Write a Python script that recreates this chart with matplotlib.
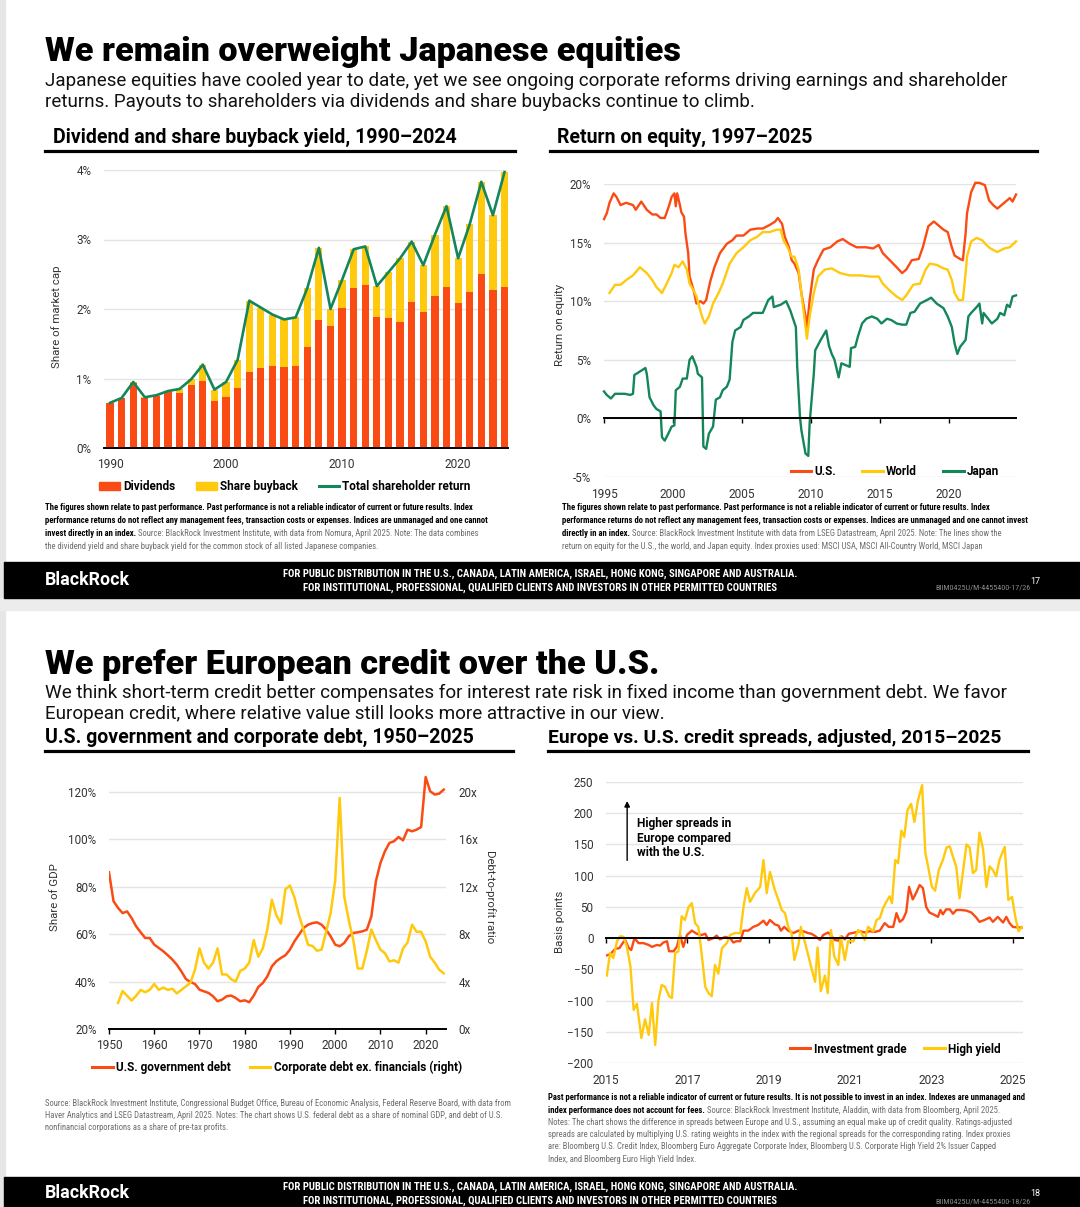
import numpy as np
import matplotlib
matplotlib.use('Agg')
import matplotlib.pyplot as plt
from matplotlib import font_manager
from matplotlib.patches import Rectangle, Patch
from matplotlib.lines import Line2D

W, H = 1080, 1207
RED = '#fb4b14'
YELLOW = '#ffc90e'
GREEN = '#14865a'
GRID = '#e4e4e4'
TICK = '#333333'
NOTE = '#6e6e6e'

# a condensed face for the small print, if one is installed
fonts = font_manager.fontManager.ttflist
installed = {f.name for f in fonts}
NARROW, STRETCH = 'Roboto', 'normal'
for name in ['Liberation Sans Narrow', 'Roboto Condensed', 'Open Sans Condensed']:
    if name in installed:
        NARROW = name
        break
else:
    if any(f.name == 'DejaVu Sans' and f.stretch == 'condensed' for f in fonts):
        NARROW, STRETCH = 'DejaVu Sans', 'condensed'
plt.rcParams['font.family'] = ['Roboto', 'DejaVu Sans']

# ---- Dividend and share buyback yield (% of market cap), 1990-2024
jp_years = np.arange(1990, 2025)
dividends = [0.65, 0.72, 0.93, 0.72, 0.75, 0.80, 0.79, 0.90, 0.96, 0.68, 0.73, 0.86,
             1.09, 1.15, 1.18, 1.17, 1.18, 1.45, 1.84, 1.76, 2.02, 2.30, 2.35, 1.89,
             1.87, 1.82, 2.10, 1.96, 2.19, 2.31, 2.08, 2.25, 2.50, 2.28, 2.31]
buyback = [0.00, 0.00, 0.02, 0.01, 0.01, 0.02, 0.06, 0.09, 0.24, 0.16, 0.22, 0.41,
           1.03, 0.87, 0.74, 0.68, 0.70, 0.85, 1.04, 0.24, 0.40, 0.56, 0.55, 0.44,
           0.66, 0.91, 0.87, 0.67, 0.88, 1.17, 0.65, 0.97, 1.33, 1.07, 1.66]

# ---- Return on equity (%), (year, value)
roe_us = [(1995.0, 17.0), (1995.2, 17.5), (1995.4, 18.4), (1995.7, 19.2), (1995.9, 18.9),
          (1996.2, 18.2), (1996.6, 18.4), (1997.1, 18.2), (1997.3, 17.8), (1997.7, 18.5),
          (1998.1, 17.8), (1998.5, 17.4), (1998.8, 17.4), (1999.1, 17.1), (1999.4, 17.1),
          (1999.7, 18.1), (1999.9, 18.9), (2000.1, 19.2), (2000.2, 18.1), (2000.3, 19.2),
          (2000.5, 18.2), (2000.6, 17.6), (2000.8, 17.2), (2000.9, 15.8), (2001.1, 14.1),
          (2001.2, 12.1), (2001.5, 10.9), (2001.7, 9.8), (2002.0, 10.0), (2002.2, 9.8),
          (2002.4, 10.1), (2002.7, 11.7), (2003.0, 12.9), (2003.4, 14.1), (2003.9, 14.9),
          (2004.3, 15.2), (2004.6, 15.6), (2005.1, 15.6), (2005.6, 16.1), (2006.1, 16.2),
          (2006.5, 16.2), (2007.0, 16.5), (2007.4, 16.8), (2007.6, 17.1), (2007.9, 16.6),
          (2008.1, 15.5), (2008.4, 14.6), (2008.6, 13.5), (2008.8, 13.2), (2009.1, 12.4),
          (2009.3, 10.7), (2009.6, 8.7), (2009.7, 7.7), (2009.9, 10.1), (2010.2, 12.7),
          (2010.5, 13.5), (2010.9, 14.4), (2011.4, 14.6), (2011.9, 15.1), (2012.3, 15.3),
          (2012.8, 14.9), (2013.3, 14.6), (2014.0, 14.6), (2014.5, 14.5), (2014.9, 14.8),
          (2015.2, 14.1), (2015.7, 13.5), (2016.2, 12.9), (2016.6, 12.4), (2016.9, 12.7),
          (2017.3, 13.5), (2017.8, 13.6), (2018.1, 14.6), (2018.5, 16.4), (2018.9, 16.8),
          (2019.2, 16.5), (2019.6, 16.1), (2019.9, 15.9), (2020.2, 14.6), (2020.4, 13.9),
          (2020.8, 13.6), (2021.0, 13.5), (2021.2, 15.8), (2021.3, 17.5), (2021.6, 19.3),
          (2021.9, 20.1), (2022.2, 20.1), (2022.6, 19.9), (2022.9, 18.6), (2023.2, 18.2),
          (2023.5, 17.9), (2023.8, 18.2), (2024.2, 18.6), (2024.4, 18.8), (2024.6, 18.5),
          (2024.85, 19.1)]
roe_world = [(1995.4, 10.7), (1995.8, 11.4), (1996.2, 11.4), (1996.6, 11.8), (1997.1, 12.2),
             (1997.6, 12.9), (1998.1, 12.4), (1998.5, 11.8), (1998.8, 11.2), (1999.2, 10.7),
             (1999.5, 11.4), (1999.9, 12.4), (2000.1, 13.1), (2000.4, 12.9), (2000.7, 13.4),
             (2001.0, 12.7), (2001.2, 11.5), (2001.5, 10.9), (2001.7, 10.4), (2002.1, 8.7),
             (2002.3, 8.1), (2002.6, 8.7), (2002.9, 9.8), (2003.3, 10.7), (2003.6, 11.5),
             (2004.1, 13.2), (2004.6, 14.1), (2005.1, 14.6), (2005.6, 15.2), (2006.1, 15.5),
             (2006.5, 15.9), (2007.0, 15.9), (2007.5, 16.1), (2007.8, 16.1), (2008.0, 15.2),
             (2008.3, 14.6), (2008.6, 13.8), (2008.8, 13.8), (2009.1, 12.7), (2009.3, 10.7),
             (2009.6, 7.8), (2009.7, 6.8), (2009.9, 8.7), (2010.2, 10.7), (2010.5, 12.1),
             (2011.0, 12.7), (2011.5, 12.8), (2012.1, 12.4), (2012.8, 12.2), (2013.6, 12.2),
             (2014.3, 12.1), (2014.9, 12.1), (2015.2, 11.5), (2015.7, 10.9), (2016.2, 10.4),
             (2016.6, 10.1), (2016.9, 10.5), (2017.4, 11.4), (2017.9, 11.5), (2018.3, 12.7),
             (2018.6, 13.2), (2019.1, 13.1), (2019.6, 12.8), (2019.9, 12.7), (2020.2, 11.8),
             (2020.4, 10.7), (2020.7, 10.1), (2021.0, 10.1), (2021.2, 12.4), (2021.3, 13.8),
             (2021.6, 15.1), (2022.0, 15.4), (2022.4, 15.2), (2022.7, 14.8), (2023.0, 14.5),
             (2023.5, 14.2), (2024.0, 14.5), (2024.4, 14.6), (2024.85, 15.1)]
roe_japan = [(1995.0, 2.3), (1995.2, 2.0), (1995.5, 1.7), (1995.8, 2.1), (1996.2, 2.1),
             (1996.5, 2.1), (1996.9, 2.0), (1997.1, 2.1), (1997.2, 3.7), (1997.6, 4.0),
             (1998.0, 4.3), (1998.1, 3.8), (1998.3, 1.8), (1998.6, 1.1), (1998.8, 0.8),
             (1999.1, 0.6), (1999.2, -1.6), (1999.4, -1.9), (1999.7, -1.2), (1999.9, -0.7),
             (2000.1, -0.6), (2000.2, 2.4), (2000.5, 2.7), (2000.7, 3.4), (2001.0, 3.4),
             (2001.2, 5.0), (2001.4, 5.3), (2001.7, 4.4), (2001.8, 3.8), (2002.1, 3.5),
             (2002.2, -2.4), (2002.4, -2.6), (2002.6, -1.3), (2002.9, -0.7), (2003.1, 1.6),
             (2003.4, 1.8), (2003.6, 2.4), (2003.9, 2.7), (2004.1, 3.3), (2004.3, 6.5),
             (2004.5, 7.5), (2004.9, 7.8), (2005.1, 8.4), (2005.5, 8.7), (2005.8, 9.0),
             (2006.5, 9.0), (2006.9, 10.1), (2007.2, 10.4), (2007.3, 9.5), (2007.8, 9.7),
             (2008.2, 10.0), (2008.5, 9.2), (2008.7, 8.5), (2008.9, 7.8), (2009.0, 4.4),
             (2009.2, 0.1), (2009.3, -1.0), (2009.6, -3.0), (2009.8, -3.2), (2009.9, -0.4),
             (2010.2, 3.8), (2010.3, 5.8), (2010.7, 6.7), (2010.9, 7.1), (2011.1, 7.5),
             (2011.3, 6.2), (2011.5, 5.5), (2011.7, 5.0), (2012.0, 3.5), (2012.2, 4.7),
             (2012.6, 4.5), (2012.8, 4.4), (2012.9, 6.0), (2013.2, 6.1), (2013.4, 7.0),
             (2013.7, 8.1), (2014.0, 8.5), (2014.4, 8.7), (2014.8, 8.5), (2015.1, 8.1),
             (2015.5, 8.5), (2015.8, 8.4), (2016.2, 8.1), (2016.6, 8.0), (2016.9, 8.0),
             (2017.2, 9.0), (2017.5, 9.1), (2017.9, 9.8), (2018.4, 10.1), (2018.7, 10.3),
             (2019.1, 9.8), (2019.6, 9.4), (2019.9, 8.7), (2020.2, 7.8), (2020.4, 6.4),
             (2020.6, 5.5), (2020.8, 6.1), (2021.2, 6.7), (2021.4, 8.7), (2021.6, 9.0),
             (2022.0, 9.5), (2022.2, 9.8), (2022.4, 8.1), (2022.5, 9.0), (2022.9, 8.4),
             (2023.1, 8.1), (2023.5, 8.5), (2023.7, 9.0), (2024.0, 8.8), (2024.2, 9.7),
             (2024.4, 9.5), (2024.6, 10.4), (2024.85, 10.5)]

# ---- U.S. government debt (% of GDP), 1950-2024
debt_years = np.arange(1950, 2025)
gov_debt = [86.1, 73.9, 71.1, 68.9, 69.6, 66.8, 63.3, 60.8, 58.4, 58.4,
            55.6, 54.2, 52.8, 51.1, 49.3, 47.1, 44.3, 41.1, 39.8, 39.0,
            36.6, 35.9, 35.2, 33.8, 31.7, 32.4, 33.8, 34.1, 33.1, 31.7,
            32.1, 31.3, 34.1, 37.7, 39.4, 42.2, 46.4, 48.6, 50.0, 51.1,
            53.5, 57.0, 59.8, 62.6, 64.0, 64.7, 65.0, 64.0, 61.9, 59.1,
            55.6, 54.9, 56.3, 59.1, 60.5, 60.8, 61.2, 61.9, 67.5, 82.3,
            90.0, 95.0, 98.5, 99.2, 101.0, 99.6, 104.1, 103.4, 104.1, 105.2,
            126.3, 120.3, 118.9, 119.3, 121.0]
# corporate debt ex. financials, debt-to-profit ratio (x), 1952-2024
corp_years = np.arange(1952, 2025)
corp_debt = [2.2, 3.2, 2.8, 2.4, 2.8, 3.3, 3.1, 3.3,
             3.8, 3.3, 3.5, 3.3, 3.4, 3.0, 3.3, 3.6, 3.9, 5.0,
             6.8, 5.6, 5.1, 5.6, 6.8, 4.6, 4.6, 4.2, 4.0, 4.9,
             5.1, 5.6, 7.5, 6.1, 6.8, 8.4, 10.9, 9.6, 8.9, 11.8,
             12.1, 11.1, 9.6, 8.4, 7.1, 7.0, 6.6, 6.7, 8.2, 9.8,
             12.5, 19.5, 11.2, 9.2, 7.5, 5.1, 5.1, 6.6, 8.4, 7.5,
             6.7, 6.4, 5.7, 5.8, 5.6, 6.8, 7.3, 8.8, 8.2, 8.2,
             7.4, 6.1, 5.6, 5.0, 4.7]

# ---- Europe minus U.S. credit spreads (bp), (year, value)
spread_ig = [(2015.0, -28), (2015.1, -26), (2015.23, -17), (2015.33, -16), (2015.41, -8),
             (2015.47, -3), (2015.56, -16), (2015.62, -19), (2015.7, 0), (2015.8, -8),
             (2015.92, -8), (2016.05, -11), (2016.13, -14), (2016.25, -11), (2016.33, -12),
             (2016.41, -7), (2016.5, -5), (2016.55, -21), (2016.66, -21), (2016.74, -14),
             (2016.82, 5), (2016.9, -14), (2016.99, 5), (2017.11, 12), (2017.23, 7),
             (2017.35, 5), (2017.44, 7), (2017.52, -3), (2017.64, 0), (2017.72, 4),
             (2017.8, -2), (2017.93, 2), (2018.05, 0), (2018.13, -7), (2018.21, -5),
             (2018.3, -5), (2018.38, 12), (2018.5, 12), (2018.62, 18), (2018.74, 21),
             (2018.87, 28), (2018.95, 21), (2019.03, 29), (2019.15, 22), (2019.24, 20),
             (2019.3, 12), (2019.38, 18), (2019.48, 12), (2019.6, 8), (2019.73, 12),
             (2019.85, 11), (2019.97, 8), (2020.05, 7), (2020.15, 3), (2020.26, -3),
             (2020.34, 5), (2020.46, 9), (2020.54, 4), (2020.62, -3), (2020.71, -4),
             (2020.79, 3), (2020.87, -2), (2020.97, 7), (2021.12, 9), (2021.24, 11),
             (2021.36, 9), (2021.48, 11), (2021.61, 10), (2021.73, 12), (2021.85, 24),
             (2021.95, 18), (2022.06, 18), (2022.14, 40), (2022.22, 26), (2022.3, 30),
             (2022.38, 42), (2022.45, 82), (2022.54, 62), (2022.62, 72), (2022.71, 85),
             (2022.79, 80), (2022.87, 50), (2022.95, 41), (2023.08, 37), (2023.16, 34),
             (2023.22, 45), (2023.28, 38), (2023.36, 46), (2023.45, 46), (2023.53, 39),
             (2023.61, 45), (2023.73, 45), (2023.86, 44), (2023.98, 41), (2024.1, 33),
             (2024.18, 26), (2024.3, 29), (2024.43, 33), (2024.51, 26), (2024.63, 34),
             (2024.76, 25), (2024.84, 34), (2024.92, 24), (2025.0, 18), (2025.12, 17),
             (2025.22, 17)]
spread_hy = [(2015.02, -60), (2015.1, -24), (2015.18, -32), (2015.27, -5), (2015.35, 3),
             (2015.43, 2), (2015.51, -13), (2015.6, -45), (2015.68, -115), (2015.76, -105),
             (2015.87, -160), (2015.96, -130), (2016.05, -155), (2016.13, -104), (2016.21, -171),
             (2016.29, -99), (2016.37, -75), (2016.45, -78), (2016.55, -93), (2016.62, -96),
             (2016.7, -24), (2016.78, -21), (2016.86, 35), (2016.94, 29), (2017.03, 50),
             (2017.11, 56), (2017.19, 24), (2017.27, 18), (2017.35, -24), (2017.44, -78),
             (2017.52, -88), (2017.6, -93), (2017.68, -43), (2017.76, -57), (2017.85, -16),
             (2017.97, -8), (2018.05, 5), (2018.17, 8), (2018.3, 8), (2018.38, 50),
             (2018.46, 80), (2018.54, 58), (2018.66, 72), (2018.79, 82), (2018.87, 125),
             (2018.95, 72), (2019.03, 106), (2019.15, 77), (2019.24, 61), (2019.32, 45),
             (2019.4, 40), (2019.48, 18), (2019.56, 8), (2019.63, -35), (2019.73, -11),
             (2019.79, 18), (2019.85, 3), (2019.97, -27), (2020.05, -48), (2020.14, -70),
             (2020.2, -15), (2020.28, -85), (2020.38, -60), (2020.45, -88), (2020.53, 13),
             (2020.61, -29), (2020.71, -43), (2020.77, 3), (2020.87, -35), (2020.95, -5),
             (2021.08, -5), (2021.2, 13), (2021.28, 8), (2021.36, -3), (2021.44, 18),
             (2021.57, 11), (2021.65, 29), (2021.73, 32), (2021.81, 48), (2021.89, 58),
             (2021.97, 67), (2022.03, 56), (2022.11, 125), (2022.18, 120), (2022.26, 172),
             (2022.33, 162), (2022.41, 205), (2022.5, 215), (2022.58, 186), (2022.67, 221),
             (2022.77, 245), (2022.85, 136), (2022.92, 114), (2023.01, 82), (2023.09, 76),
             (2023.18, 109), (2023.28, 125), (2023.37, 145), (2023.45, 147), (2023.53, 130),
             (2023.61, 114), (2023.69, 64), (2023.77, 104), (2023.86, 150), (2023.94, 145),
             (2024.02, 104), (2024.1, 109), (2024.18, 169), (2024.27, 142), (2024.35, 82),
             (2024.43, 115), (2024.51, 109), (2024.59, 99), (2024.67, 125), (2024.8, 146),
             (2024.89, 61), (2024.98, 66), (2025.06, 34), (2025.14, 11), (2025.22, 18)]

# ---- texts
title_top = 'We remain overweight Japanese equities'
sub_top = ['Japanese equities have cooled year to date, yet we see ongoing corporate reforms driving earnings and shareholder',
           'returns. Payouts to shareholders via dividends and share buybacks continue to climb.']
title_bot = 'We prefer European credit over the U.S.'
sub_bot = ['We think short-term credit better compensates for interest rate risk in fixed income than government debt. We favor',
           'European credit, where relative value still looks more attractive in our view.']
footer = ['FOR PUBLIC DISTRIBUTION IN THE U.S., CANADA, LATIN AMERICA, ISRAEL, HONG KONG, SINGAPORE AND AUSTRALIA.',
          'FOR INSTITUTIONAL, PROFESSIONAL, QUALIFIED CLIENTS AND INVESTORS IN OTHER PERMITTED COUNTRIES']

fig = plt.figure(figsize=(W / 100, H / 100), dpi=100)
fig.patch.set_facecolor('white')
renderer = fig.canvas.get_renderer()


def box(l, t, r, b):
    return [l / W, 1 - b / H, (r - l) / W, (b - t) / H]


def put(x, y, s, size, **kw):
    return fig.text(x / W, 1 - y / H, s, fontsize=size, **kw)


def fit(x, y, s, width, keep=True, **kw):
    # font size that makes s exactly `width` pixels wide
    t = put(x, y, s, 10, **kw)
    size = 10 * width / t.get_window_extent(renderer).width
    if keep:
        t.set_fontsize(size)
    else:
        t.remove()
    return size


def mixed(x, y, parts, size):
    for s, weight, color in parts:
        t = put(x, y, s, size, fontweight=weight, color=color, family=NARROW,
                fontstretch=STRETCH, va='center')
        x += t.get_window_extent(renderer).width


def rule(x0, x1, y):
    fig.add_artist(Line2D([x0 / W, x1 / W], [1 - y / H] * 2, color='black', lw=2.3,
                          transform=fig.transFigure))


def rect(l, t, r, b, color):
    fig.add_artist(Rectangle((l / W, 1 - b / H), (r - l) / W, (b - t) / H, color=color,
                             transform=fig.transFigure, zorder=0))


def style(ax):
    for s in ax.spines.values():
        s.set_visible(False)
    ax.tick_params(axis='y', length=0, labelsize=8.4, labelcolor=TICK, pad=9)
    ax.tick_params(axis='x', labelsize=8.6, labelcolor=TICK)
    ax.grid(axis='y', color=GRID, lw=1.0)
    ax.set_axisbelow(True)


def zero_axis(ax, ticks, labels, zero, pad):
    ax.spines['bottom'].set_visible(True)
    ax.spines['bottom'].set_position(('data', zero))
    ax.spines['bottom'].set_linewidth(1.4)
    ax.set_xticks(ticks)
    ax.tick_params(axis='x', length=3.5, width=1.0, labelbottom=False)
    sec = ax.secondary_xaxis('bottom')
    sec.set_xticks(ticks, labels)
    sec.tick_params(length=0, pad=pad, labelsize=8.6, labelcolor=TICK)
    sec.spines['bottom'].set_visible(False)


def legend(handles, labels, cx, cy, colsp):
    fig.legend(handles, labels, loc='center', bbox_to_anchor=(cx / W, 1 - cy / H), ncol=len(labels),
               frameon=False, prop={'weight': 'bold', 'size': 8.5}, handlelength=1.75,
               handletextpad=0.28, columnspacing=colsp, borderpad=0, borderaxespad=0)


# ---- page frame
rect(0, 0, 5, H, '#e6e6e6')
rect(0, 598, W, 610, '#ececec')
rect(4, 562, W, 598, 'black')
rect(4, 1177, W, H, 'black')

# ---- headings
fit(45, 61, title_top, 636, fontweight='black', va='baseline')
fs = fit(45, 86, sub_top[0], 965, va='baseline', color='#111111')
put(45, 107, sub_top[1], fs, va='baseline', color='#111111')
fit(53, 143, 'Dividend and share buyback yield, 1990\u20132024', 406, fontweight='bold', va='baseline')
fit(557, 143, 'Return on equity, 1997\u20132025', 256, fontweight='bold', va='baseline')
rule(45, 515, 151)
rule(550, 1037, 151)

fit(45, 674, title_bot, 615, fontweight='black', va='baseline')
fs = fit(45, 698, sub_bot[0], 967, va='baseline', color='#111111')
put(45, 719, sub_bot[1], fs, va='baseline', color='#111111')
fit(45, 743, 'U.S. government and corporate debt, 1950\u20132025', 430, fontweight='bold', va='baseline')
fit(548, 743, 'Europe vs. U.S. credit spreads, adjusted, 2015\u20132025', 456, fontweight='bold', va='baseline')
rule(45, 513, 751)
rule(548, 1028, 751)

# ---- chart 1: dividends and buybacks
ax1 = fig.add_axes(box(104, 170, 508, 448))
style(ax1)
div = np.array(dividends)
bb = np.array(buyback)
ax1.bar(jp_years, div, width=0.62, color=RED, zorder=2)
ax1.bar(jp_years, bb, bottom=div, width=0.62, color=YELLOW, zorder=2)
ax1.plot(jp_years, div + bb, color=GREEN, lw=1.9, zorder=3, clip_on=False)
ax1.set_ylim(0, 4)
ax1.set_xlim(1989.48, 2024.3)
ax1.set_yticks([0, 1, 2, 3, 4], ['0%', '1%', '2%', '3%', '4%'])
ax1.set_xticks([1990, 2000, 2010, 2020])
ax1.spines['bottom'].set_visible(True)
ax1.spines['bottom'].set_linewidth(1.4)
ax1.tick_params(axis='x', length=0, pad=7)
put(57, 317, 'Share of market cap', 8.2, rotation=90, ha='center', va='center', color=TICK)
legend([Patch(color=RED), Patch(color=YELLOW), Line2D([], [], color=GREEN, lw=2.2)],
       ['Dividends', 'Share buyback', 'Total shareholder return'], 285, 487, 1.75)

# ---- chart 2: return on equity
ax2 = fig.add_axes(box(604, 184, 1016, 477))
style(ax2)
for series, color in [(roe_us, RED), (roe_world, YELLOW), (roe_japan, GREEN)]:
    xs, ys = np.array(series).T
    ax2.plot(xs, ys, color=color, lw=1.7, clip_on=False)
ax2.set_ylim(-5, 20)
ax2.set_xlim(1995, 2024.85)
ax2.set_yticks([-5, 0, 5, 10, 15, 20], ['-5%', '0%', '5%', '10%', '15%', '20%'])
zero_axis(ax2, [1995, 2000, 2005, 2010, 2015, 2020], ['1995', '2000', '2005', '2010', '2015', '2020'], 0, 8)
put(560, 325, 'Return on equity', 8.2, rotation=90, ha='center', va='center', color=TICK)
legend([Line2D([], [], color=c, lw=2.2) for c in (RED, YELLOW, GREEN)],
       ['U.S.', 'World', 'Japan'], 895, 472, 2.2)

# ---- chart 3: U.S. government and corporate debt
ax3 = fig.add_axes(box(109, 773, 446, 1029))
style(ax3)
ax3.plot(debt_years, gov_debt, color=RED, lw=1.8, zorder=3)
ax3.set_ylim(20, 128)
ax3.set_xlim(1950, 2024.5)
ax3.set_yticks([20, 40, 60, 80, 100, 120], ['20%', '40%', '60%', '80%', '100%', '120%'])
ax3.set_xticks(range(1950, 2021, 10))
ax3.spines['bottom'].set_visible(True)
ax3.spines['bottom'].set_linewidth(1.4)
ax3.tick_params(axis='x', length=3.5, width=1.0, pad=4)
ax3r = ax3.twinx()
for s in ax3r.spines.values():
    s.set_visible(False)
ax3r.plot(corp_years, corp_debt, color=YELLOW, lw=1.8, zorder=2)
ax3r.set_ylim(0, 21.6)
ax3r.set_yticks([0, 4, 8, 12, 16, 20], ['0x', '4x', '8x', '12x', '16x', '20x'])
ax3r.tick_params(axis='y', length=0, labelsize=8.4, labelcolor=TICK, pad=9)
put(55, 897, 'Share of GDP', 8.2, rotation=90, ha='center', va='center', color=TICK)
put(490, 897, 'Debt-to-profit ratio', 8.2, rotation=270, ha='center', va='center', color=TICK)
legend([Line2D([], [], color=c, lw=2.2) for c in (RED, YELLOW)],
       ['U.S. government debt', 'Corporate debt ex. financials (right)'], 277, 1067, 1.6)

# ---- chart 4: credit spreads
ax4 = fig.add_axes(box(606, 782, 1023, 1063))
style(ax4)
for series, color in [(spread_ig, RED), (spread_hy, YELLOW)]:
    xs, ys = np.array(series).T
    ax4.plot(xs, ys, color=color, lw=1.7)
ax4.set_ylim(-200, 250)
ax4.set_xlim(2015, 2025.25)
ax4.set_yticks(range(-200, 251, 50))
zero_axis(ax4, [2015, 2017, 2019, 2021, 2023, 2025], ['2015', '2017', '2019', '2021', '2023', '2025'], 0, 8)
ax4.annotate('', xy=(2015.52, 224), xytext=(2015.52, 120),
             arrowprops=dict(arrowstyle='-|>', color='black', lw=1.0, mutation_scale=8))
ax4.text(2015.76, 160, 'Higher spreads in\nEurope compared\nwith the U.S.', fontsize=8.6,
         fontweight='bold', va='center', linespacing=1.15)
put(560, 922, 'Basis points', 8.2, rotation=90, ha='center', va='center', color=TICK)
legend([Line2D([], [], color=c, lw=2.2) for c in (RED, YELLOW)],
       ['Investment grade', 'High yield'], 895, 1049, 1.5)

# ---- footnotes
B, R = 'bold', 'normal'
fs = fit(45, 300, 'performance returns do not reflect any management fees, transaction costs or expenses. '
         'Indices are unmanaged and one cannot', 444, keep=False, fontweight='bold', family=NARROW,
         fontstretch=STRETCH)
notes_tl = [[('The figures shown relate to past performance. Past performance is not a reliable indicator of '
              'current or future results. Index', B, 'black')],
            [('performance returns do not reflect any management fees, transaction costs or expenses. '
              'Indices are unmanaged and one cannot', B, 'black')],
            [('invest directly in an index.', B, 'black'),
             (' Source: BlackRock Investment Institute, with data from Nomura, April 2025. Note: The data combines', R, NOTE)],
            [('the dividend yield and share buyback yield for the common stock of all listed Japanese companies.', R, NOTE)]]
notes_tr = [[('The figures shown relate to past performance. Past performance is not a reliable indicator of '
              'current or future results. Index', B, 'black')],
            [('performance returns do not reflect any management fees, transaction costs or expenses. '
              'Indices are unmanaged and one cannot invest', B, 'black')],
            [('directly in an index.', B, 'black'),
             (' Source: BlackRock Investment Institute with data from LSEG Datastream, April 2025. Note: The lines show the', R, NOTE)],
            [('return on equity for the U.S., the world, and Japan equity. Index proxies used: MSCI USA, '
              'MSCI All-Country World, MSCI Japan', R, NOTE)]]
notes_bl = [[('Source: BlackRock Investment Institute, Congressional Budget Office, Bureau of Economic Analysis, '
              'Federal Reserve Board, with data from', R, NOTE)],
            [('Haver Analytics and LSEG Datastream, April 2025. Notes: The chart shows U.S. federal debt as a '
              'share of nominal GDP, and debt of U.S.', R, NOTE)],
            [('nonfinancial corporations as a share of pre-tax profits.', R, NOTE)]]
notes_br = [[('Past performance is not a reliable indicator of current or future results. It is not possible to '
              'invest in an index. Indexes are unmanaged and', B, 'black')],
            [('index performance does not account for fees.', B, 'black'),
             (' Source: BlackRock Investment Institute, Aladdin, with data from Bloomberg, April 2025.', R, NOTE)],
            [('Notes: The chart shows the difference in spreads between Europe and U.S., assuming an equal make up '
              'of credit quality. Ratings-adjusted', R, NOTE)],
            [('spreads are calculated by multiplying U.S. rating weights in the index with the regional spreads for '
              'the corresponding rating. Index proxies', R, NOTE)],
            [('are: Bloomberg U.S. Credit Index, Bloomberg Euro Aggregate Corporate Index, Bloomberg U.S. Corporate '
              'High Yield 2% Issuer Capped', R, NOTE)],
            [('Index, and Bloomberg Euro High Yield Index.', R, NOTE)]]
for x, y0, step, lines in [(45, 508, 12.7, notes_tl), (562, 508, 12.7, notes_tr),
                           (45, 1103, 12.2, notes_bl), (548, 1098, 12.2, notes_br)]:
    for i, parts in enumerate(lines):
        mixed(x, y0 + i * step, parts, fs)

# ---- footers
for mid, page in [(580, '17'), (1193, '18')]:
    fit(45, mid, 'BlackRock', 84, fontweight='bold', color='white', va='center')
    ffs = fit(540, mid - 6, footer[0], 516, fontweight='bold', color='white', va='center',
              ha='center', family=NARROW, fontstretch=STRETCH)
    put(540, mid + 8, footer[1], ffs, fontweight='bold', color='white', va='center', ha='center',
        family=NARROW, fontstretch=STRETCH)
    fit(935, mid + 8, 'BIIM0425U/M-4455400-%s/26' % page, 95, color='#8a8a8a', va='center',
        family=NARROW, fontstretch=STRETCH)
    put(1030, mid + 1, page, 6.5, color='white', va='center')

fig.savefig('out.png', dpi=100)
